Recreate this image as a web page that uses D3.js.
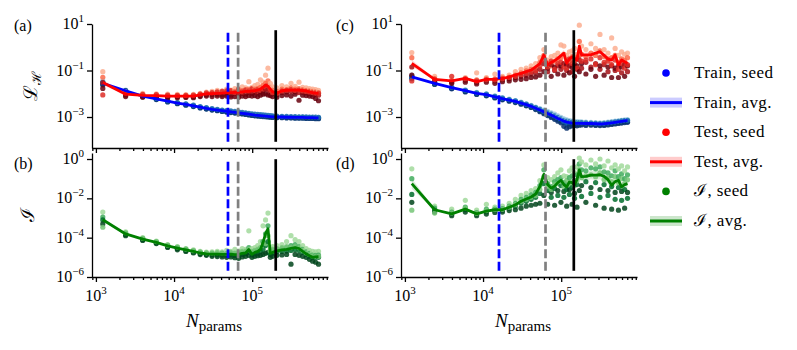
<!DOCTYPE html>
<html>
<head>
<meta charset="utf-8">
<script src="https://cdnjs.cloudflare.com/ajax/libs/d3/7.8.5/d3.min.js"></script>
<style>
  body { margin: 0; background: #fff; }
  svg { display: block; }
</style>
</head>
<body>
<div id="chart"></div>
<script>
// number of parameters of each model (x positions)
var nParams = [1225, 2401, 3969, 5929, 8281, 11025, 14161, 17689, 21609, 25921,
  30625, 35721, 41209, 47089, 53361, 60025, 67081, 74529, 82369, 90601,
  99225, 108241, 117649, 127449, 137641, 148225, 159201, 170569, 182329, 207025,
  240100, 275625, 313600, 354025, 396900, 442225, 490000, 540225, 592900, 648025, 705600];

// all values below are log10 of the plotted quantity
// panel (a)
var trainA_avg = [-1.55,-1.87,-2.10,-2.22,-2.32,-2.40,-2.46,-2.52,-2.58,-2.63,-2.67,-2.70,-2.73,-2.76,-2.78,-2.80,-2.82,-2.84,-2.86,-2.88,-2.90,-2.92,-2.93,-2.94,-2.95,-2.96,-2.97,-2.98,-2.99,-3.00,-3.00,-3.01,-3.01,-3.02,-3.02,-3.02,-3.03,-3.03,-3.03,-3.04,-3.04];
var testA_avg = [-1.52,-2.02,-2.07,-2.08,-2.10,-2.10,-2.10,-2.10,-2.05,-2.00,-2.00,-1.98,-1.97,-1.95,-1.95,-1.94,-1.93,-1.92,-1.90,-1.90,-1.88,-1.87,-1.84,-1.80,-1.72,-1.62,-1.68,-1.80,-1.92,-1.98,-1.87,-1.85,-1.84,-1.84,-1.84,-1.86,-1.88,-1.92,-1.95,-1.97,-1.98];
var trainA_seeds = [[-1.45,-1.53,-1.58,-1.62,-1.51],[-1.84,-1.88,-1.90,-1.86,-1.89],[-2.07,-2.12,-2.10,-2.13,-2.08],[-2.19,-2.24,-2.22,-2.25,-2.20],[-2.29,-2.34,-2.31,-2.35,-2.30],[-2.37,-2.42,-2.40,-2.43,-2.38],[-2.44,-2.48,-2.46,-2.49,-2.43],[-2.50,-2.54,-2.52,-2.55,-2.49],[-2.56,-2.60,-2.58,-2.61,-2.55],[-2.61,-2.65,-2.63,-2.66,-2.60],
  [-2.65,-2.69,-2.67,-2.70,-2.64],[-2.68,-2.72,-2.70,-2.73,-2.67],[-2.71,-2.75,-2.73,-2.76,-2.70],[-2.74,-2.78,-2.76,-2.79,-2.72],[-2.76,-2.80,-2.78,-2.81,-2.74],[-2.78,-2.82,-2.80,-2.83,-2.76],[-2.80,-2.84,-2.82,-2.85,-2.78],[-2.82,-2.86,-2.84,-2.87,-2.80],[-2.84,-2.88,-2.86,-2.89,-2.82],[-2.86,-2.90,-2.88,-2.91,-2.84],
  [-2.88,-2.92,-2.90,-2.93,-2.86],[-2.90,-2.94,-2.92,-2.95,-2.88],[-2.91,-2.95,-2.93,-2.96,-2.89],[-2.92,-2.96,-2.94,-2.97,-2.90],[-2.93,-2.97,-2.95,-2.98,-2.91],[-2.94,-2.98,-2.96,-2.99,-2.92],[-2.95,-2.99,-2.97,-3.00,-2.93],[-2.96,-3.00,-2.98,-3.01,-2.94],[-2.97,-3.01,-2.99,-3.02,-2.95],[-2.98,-3.02,-3.00,-3.03,-2.96],
  [-2.98,-3.02,-3.00,-3.03,-2.97],[-2.99,-3.03,-3.01,-3.04,-2.97],[-2.99,-3.03,-3.01,-3.04,-2.98],[-3.00,-3.04,-3.02,-3.05,-2.98],[-3.00,-3.04,-3.02,-3.05,-2.99],[-3.00,-3.04,-3.02,-3.05,-2.99],[-3.01,-3.05,-3.03,-3.06,-2.99],[-3.01,-3.05,-3.03,-3.06,-3.00],[-3.01,-3.05,-3.03,-3.06,-3.00],[-3.02,-3.06,-3.04,-3.07,-3.00],[-3.02,-3.06,-3.04,-3.07,-3.01]];
var testA_seeds = [[-1.05,-1.29,-1.52,-1.77,-2.05],[-1.92,-2.00,-2.06,-2.12,-1.97],[-1.98,-2.05,-2.10,-2.15,-2.03],[-2.00,-2.06,-2.12,-2.15,-2.04],[-2.02,-2.08,-2.14,-2.17,-2.06],[-2.03,-2.08,-2.13,-2.17,-2.07],[-2.04,-2.09,-2.13,-2.16,-2.07],[-2.03,-2.08,-2.14,-2.17,-2.06],[-1.98,-2.03,-2.09,-2.12,-2.01],[-1.93,-1.99,-2.05,-2.10,-1.96],
  [-1.90,-1.98,-2.04,-2.12,-1.95],[-1.85,-1.96,-2.03,-2.10,-1.92],[-1.88,-1.95,-2.05,-2.12,-1.90],[-1.80,-1.93,-2.02,-2.10,-1.88],[-1.84,-1.92,-2.06,-2.14,-1.86],[-1.78,-1.90,-2.00,-2.12,-1.95],[-1.82,-1.88,-2.04,-2.15,-1.80],[-1.70,-1.86,-1.98,-2.10,-1.92],[-1.75,-1.85,-2.02,-2.12,-1.83],[-1.48,-1.80,-1.95,-2.08,-1.88],
  [-1.72,-1.82,-1.99,-2.10,-1.78],[-1.65,-1.80,-1.94,-2.08,-1.86],[-1.60,-1.78,-1.96,-2.12,-1.82],[-1.40,-1.72,-1.92,-2.06,-1.85],[-1.50,-1.65,-1.85,-2.02,-1.78],[-1.20,-1.55,-1.80,-2.00,-1.70],[-0.90,-1.45,-1.82,-2.05,-1.65],[-1.55,-1.75,-1.90,-2.08,-1.82],[-1.70,-1.85,-2.00,-2.12,-1.95],[-1.75,-1.90,-2.05,-2.15,-1.98],
  [-1.65,-1.80,-1.95,-2.08,-1.88],[-1.70,-1.82,-1.92,-2.05,-1.85],[-1.55,-1.75,-1.90,-2.10,-1.82],[-1.68,-1.80,-1.92,-2.02,-1.86],[-1.50,-1.78,-1.95,-2.28,-1.84],[-1.72,-1.82,-1.94,-2.06,-1.88],[-1.75,-1.85,-1.96,-2.08,-1.90],[-1.78,-1.88,-2.00,-2.10,-1.92],[-1.80,-1.90,-2.02,-2.12,-1.95],[-1.82,-1.92,-2.04,-2.20,-1.96],[-1.85,-1.95,-2.06,-2.30,-1.98]];

// panel (b)
var infoB_avg = [-3.09,-3.81,-4.07,-4.24,-4.42,-4.53,-4.62,-4.70,-4.78,-4.82,-4.84,-4.84,-4.85,-4.85,-4.84,-4.86,-4.85,-4.80,-4.78,-4.60,-4.85,-4.75,-4.70,-4.60,-4.25,-3.80,-3.55,-4.80,-4.75,-4.67,-4.62,-4.60,-4.55,-4.50,-4.55,-4.70,-4.82,-4.92,-5.00,-4.98,-4.97];
var infoB_seeds = [[-2.70,-2.95,-3.10,-3.30,-3.47],[-3.70,-3.78,-3.85,-3.90,-3.75],[-4.00,-4.05,-4.10,-4.14,-4.03],[-4.18,-4.22,-4.27,-4.30,-4.20],[-4.35,-4.40,-4.46,-4.50,-4.38],[-4.45,-4.50,-4.56,-4.62,-4.48],[-4.55,-4.60,-4.66,-4.70,-4.58],[-4.62,-4.68,-4.74,-4.78,-4.66],[-4.70,-4.75,-4.82,-4.86,-4.73],[-4.74,-4.80,-4.86,-4.90,-4.77],
  [-4.72,-4.80,-4.88,-4.95,-4.78],[-4.70,-4.82,-4.88,-4.96,-4.76],[-4.72,-4.80,-4.90,-4.98,-4.78],[-4.65,-4.82,-4.90,-5.00,-4.80],[-4.70,-4.80,-4.88,-4.98,-4.75],[-4.60,-4.82,-4.92,-5.02,-4.78],[-4.68,-4.80,-4.90,-5.05,-4.74],[-4.55,-4.75,-4.85,-4.98,-4.70],[-4.60,-4.72,-4.82,-4.95,-4.68],[-3.65,-4.50,-4.75,-4.90,-4.60],
  [-4.55,-4.75,-4.88,-5.00,-4.70],[-4.50,-4.70,-4.82,-4.95,-4.65],[-4.40,-4.65,-4.80,-4.92,-4.60],[-4.20,-4.55,-4.72,-4.90,-4.50],[-3.40,-4.20,-4.60,-4.85,-4.40],[-3.10,-3.80,-4.40,-4.80,-4.30],[-2.75,-3.40,-4.20,-4.75,-3.90],[-4.50,-4.70,-4.85,-5.00,-4.65],[-4.45,-4.65,-4.80,-4.95,-4.60],[-4.40,-4.60,-4.72,-4.90,-4.55],
  [-4.35,-4.55,-4.70,-4.88,-4.50],[-4.20,-4.50,-4.68,-4.85,-4.45],[-3.90,-4.40,-4.65,-5.35,-4.50],[-4.10,-4.35,-4.60,-4.85,-4.45],[-4.20,-4.45,-4.65,-4.90,-4.50],[-4.40,-4.60,-4.75,-4.95,-4.65],[-4.55,-4.72,-4.85,-5.00,-4.78],[-4.65,-4.80,-4.95,-5.10,-4.85],[-4.70,-4.88,-5.02,-5.20,-4.92],[-4.72,-4.90,-5.00,-5.25,-4.95],[-4.70,-4.88,-5.00,-5.35,-4.95]];

// panel (c)
var trainC_avg = [-1.27,-1.55,-1.74,-1.87,-1.98,-2.04,-2.13,-2.21,-2.27,-2.33,-2.40,-2.47,-2.54,-2.62,-2.70,-2.78,-2.85,-2.92,-2.99,-3.06,-3.12,-3.18,-3.22,-3.24,-3.26,-3.27,-3.27,-3.27,-3.27,-3.28,-3.28,-3.29,-3.30,-3.29,-3.27,-3.25,-3.23,-3.21,-3.19,-3.17,-3.16];
var testC_avg = [-0.69,-1.38,-1.45,-1.34,-1.48,-1.38,-1.38,-1.34,-1.28,-1.19,-1.12,-1.05,-0.98,-0.84,-0.70,-0.33,-0.76,-0.65,-0.58,-0.48,-0.36,-0.26,-0.69,-0.50,-0.41,-0.48,-0.55,0.05,-0.33,-0.33,-0.33,-0.25,-0.19,-0.35,-0.50,-0.55,-0.33,-0.76,-0.55,-0.62,-0.69];
var trainC_seeds = [[-1.20,-1.25,-1.30,-1.35,-1.28],[-1.50,-1.54,-1.58,-1.60,-1.53],[-1.70,-1.74,-1.77,-1.79,-1.72],[-1.83,-1.87,-1.90,-1.92,-1.85],[-1.94,-1.98,-2.01,-2.03,-1.96],[-2.00,-2.04,-2.07,-2.09,-2.02],[-2.09,-2.13,-2.16,-2.18,-2.11],[-2.17,-2.21,-2.24,-2.26,-2.19],[-2.23,-2.27,-2.30,-2.32,-2.25],[-2.29,-2.33,-2.36,-2.38,-2.31],
  [-2.36,-2.40,-2.43,-2.45,-2.38],[-2.43,-2.47,-2.50,-2.52,-2.45],[-2.50,-2.54,-2.57,-2.59,-2.52],[-2.57,-2.62,-2.65,-2.68,-2.60],[-2.64,-2.70,-2.74,-2.77,-2.67],[-2.70,-2.78,-2.82,-2.86,-2.75],[-2.76,-2.85,-2.90,-2.94,-2.82],[-2.82,-2.92,-2.97,-3.02,-2.88],[-2.88,-2.99,-3.04,-3.10,-2.95],[-2.95,-3.06,-3.12,-3.18,-3.02],
  [-3.02,-3.12,-3.18,-3.25,-3.08],[-3.08,-3.18,-3.24,-3.40,-3.14],[-3.12,-3.22,-3.28,-3.48,-3.18],[-3.15,-3.24,-3.30,-3.42,-3.20],[-3.18,-3.26,-3.32,-3.38,-3.22],[-3.20,-3.27,-3.32,-3.36,-3.24],[-3.20,-3.27,-3.32,-3.38,-3.24],[-3.21,-3.27,-3.31,-3.35,-3.24],[-3.21,-3.27,-3.31,-3.34,-3.24],[-3.22,-3.28,-3.32,-3.36,-3.25],
  [-3.23,-3.28,-3.32,-3.35,-3.26],[-3.24,-3.29,-3.33,-3.36,-3.27],[-3.25,-3.30,-3.34,-3.37,-3.28],[-3.24,-3.29,-3.33,-3.36,-3.27],[-3.22,-3.27,-3.31,-3.34,-3.25],[-3.20,-3.25,-3.29,-3.32,-3.23],[-3.18,-3.23,-3.27,-3.30,-3.21],[-3.16,-3.21,-3.25,-3.28,-3.19],[-3.14,-3.19,-3.23,-3.26,-3.17],[-3.12,-3.17,-3.21,-3.24,-3.15],[-3.11,-3.16,-3.20,-3.23,-3.14]];
var testC_seeds = [[-0.23,-0.45,-0.85,-1.20,-1.45],[-1.25,-1.35,-1.42,-1.48,-1.38],[-1.40,-1.45,-1.50,-1.55,-1.25],[-1.30,-1.38,-1.42,-1.50,-1.35],[-1.10,-1.40,-1.50,-1.58,-1.45],[-1.30,-1.36,-1.42,-1.50,-1.40],[-1.15,-1.36,-1.45,-1.55,-1.40],[-1.25,-1.32,-1.40,-1.48,-1.36],[-1.20,-1.28,-1.36,-1.45,-1.30],[-1.05,-1.20,-1.30,-1.40,-1.25],
  [-0.95,-1.10,-1.25,-1.38,-1.18],[-0.90,-1.02,-1.20,-1.35,-1.10],[-0.80,-0.95,-1.15,-1.30,-1.05],[-0.70,-0.90,-1.10,-1.28,-1.00],[-0.45,-0.65,-0.95,-1.20,-0.80],[-0.10,-0.35,-0.70,-1.05,-0.55],[-0.55,-0.70,-1.05,-0.90,-0.85],[-0.40,-0.80,-0.75,-1.25,-0.60],[-0.35,-0.60,-1.00,-0.85,-0.95],[-0.25,-0.50,-0.80,-1.15,-0.70],
  [0.10,-0.45,-0.95,-0.80,-0.65],[0.05,-0.30,-0.70,-1.20,-0.85],[-0.35,-0.55,-1.00,-0.75,-0.90],[-0.20,-0.60,-0.80,-1.10,-0.50],[-0.15,-0.40,-1.05,-0.85,-0.70],[-0.05,-0.50,-0.75,-1.25,-0.60],[-0.30,-0.45,-0.95,-0.80,-0.90],[0.95,0.25,-0.55,-1.05,-0.35],[0.05,-0.30,-0.90,-0.70,-0.60],[-0.10,-0.40,-0.65,-1.15,-0.55],
  [0.15,-0.25,-0.85,-0.95,-0.50],[-0.05,-0.35,-0.70,-1.25,-0.75],[0.55,-0.15,-0.95,-0.80,-0.45],[-0.10,-0.40,-0.75,-1.20,-0.65],[-0.25,-0.50,-1.05,-0.85,-0.60],[0.40,-0.45,-0.80,-1.30,-0.75],[-0.05,-0.35,-1.00,-0.90,-0.55],[-0.35,-0.65,-0.80,-1.30,-0.95],[-0.20,-0.50,-1.10,-0.85,-0.70],[-0.30,-0.55,-0.75,-1.25,-0.90],[-0.25,-0.45,-1.05,-0.80,-0.75]];

// panel (d)
var infoD_avg = [-1.25,-2.58,-2.79,-2.55,-2.79,-2.65,-2.58,-2.58,-2.45,-2.33,-2.15,-2.03,-1.93,-1.78,-1.40,-0.78,-1.30,-1.48,-1.38,-1.20,-1.08,-1.30,-1.42,-1.16,-1.20,-1.30,-1.05,-0.56,-0.90,-0.88,-0.82,-0.82,-0.80,-0.88,-1.05,-1.33,-1.15,-1.08,-1.42,-1.30,-1.25];
var infoD_seeds = [[-0.50,-1.00,-1.80,-2.20,-2.60],[-2.40,-2.50,-2.60,-2.70,-2.75],[-2.55,-2.70,-2.80,-2.88,-2.75],[-2.10,-2.45,-2.58,-2.70,-2.50],[-2.60,-2.72,-2.80,-2.88,-2.76],[-2.30,-2.55,-2.68,-2.80,-2.62],[-2.45,-2.55,-2.62,-2.72,-2.58],[-2.40,-2.52,-2.60,-2.70,-2.56],[-2.25,-2.40,-2.50,-2.62,-2.45],[-2.05,-2.25,-2.40,-2.58,-2.32],
  [-1.85,-2.05,-2.25,-2.50,-2.15],[-1.75,-1.95,-2.15,-2.40,-2.05],[-1.60,-1.82,-2.05,-2.35,-1.95],[-1.50,-1.70,-1.95,-2.30,-1.85],[-1.10,-1.35,-1.75,-2.25,-1.55],[-0.30,-0.55,-1.25,-1.85,-0.90],[-0.95,-1.25,-1.60,-2.30,-1.40],[-1.05,-1.40,-1.95,-1.70,-1.55],[-0.90,-1.15,-1.50,-2.35,-1.30],[-0.70,-1.05,-1.85,-1.60,-1.25],
  [-0.55,-0.95,-1.35,-2.20,-1.15],[-0.85,-1.20,-1.95,-1.65,-1.40],[-0.90,-1.30,-1.55,-2.40,-1.10],[-0.60,-0.95,-1.80,-1.55,-1.30],[-0.45,-0.85,-1.45,-2.30,-1.20],[-0.70,-1.10,-2.00,-1.75,-1.35],[-0.40,-0.80,-1.30,-2.45,-1.10],[0.05,-0.25,-0.85,-1.60,-0.55],[-0.15,-0.55,-1.90,-1.35,-0.95],[-0.30,-0.60,-1.15,-2.20,-0.85],
  [-0.05,-0.45,-1.75,-1.45,-0.80],[-0.25,-0.50,-1.20,-2.35,-0.90],[0.00,-0.40,-1.95,-1.55,-0.70],[-0.35,-0.65,-1.30,-2.50,-1.05],[-0.10,-0.70,-1.85,-1.60,-0.95],[-0.45,-0.85,-1.40,-2.55,-1.15],[-0.30,-0.60,-2.05,-1.70,-0.90],[-0.50,-0.90,-1.45,-2.60,-1.20],[-0.35,-0.75,-2.10,-1.65,-1.00],[-0.60,-1.00,-1.55,-2.50,-1.25],[-0.40,-0.80,-2.00,-1.70,-1.05]];

// vertical markers (N_params)
var markersLeft = [49000, 66000, 200000];
var markersRight = [16000, 63000, 145000];

var blues = ["#9ecae1", "#4292c6", "#08519c", "#08306b", "#2171b5"];
var reds = ["#fcae91", "#fb6a4a", "#a50f15", "#67000d", "#de2d26"];
var greens = ["#a1d99b", "#41ab5d", "#006d2c", "#00441b", "#74c476"];

var FONT = "'Liberation Serif', 'Times New Roman', serif";
var SCRIPT = "'DejaVu Serif', serif";

var svg = d3.select("#chart").append("svg").attr("width", 797).attr("height", 350)
  .attr("font-family", FONT);

var cols = [{x0: 92, x1: 328}, {x0: 401, x1: 637}];
var rows = [{y0: 24, y1: 148, dom: [Math.pow(10, -4.333), 10], ticks: [1, -1, -3]},
            {y0: 153, y1: 277, dom: [1e-6, Math.pow(10, 0.306)], ticks: [0, -2, -4, -6]}];

function sup(t, e) {
  t.append("tspan").text("10");
  t.append("tspan").attr("dy", -7).attr("font-size", 11).text(e < 0 ? "\u2212" + (-e) : e);
}

function panel(col, row, series, markers, showXLabels) {
  var x = d3.scaleLog().domain([Math.pow(10, 2.95), Math.pow(10, 5.97)]).range([col.x0, col.x1]);
  var y = d3.scaleLog().domain(row.dom).range([row.y1, row.y0]);
  var g = svg.append("g");

  // bands
  series.forEach(function (s) {
    var band = s.avg.map(function (v, i) {
      var dev = d3.deviation(s.seeds[i]) * 0.3;
      return [i, v - dev, v + dev];
    });
    g.append("path").datum(band)
      .attr("fill", s.color).attr("opacity", 0.15)
      .attr("d", d3.area()
        .x(function (d) { return x(nParams[d[0]]); })
        .y0(function (d) { return y(Math.pow(10, d[1])); })
        .y1(function (d) { return y(Math.pow(10, d[2])); }));
  });
  // seeds
  series.forEach(function (s) {
    var pts = [];
    s.seeds.forEach(function (arr, i) {
      arr.forEach(function (v, k) { pts.push({i: i, v: v, k: k}); });
    });
    g.selectAll(null).data(pts).enter().append("circle")
      .attr("cx", function (d) { return x(nParams[d.i]); })
      .attr("cy", function (d) { return y(Math.pow(10, d.v)); })
      .attr("r", 2.6)
      .attr("fill", function (d) { return s.shades[d.k]; })
      .attr("opacity", 0.85);
  });
  // averages
  series.forEach(function (s) {
    g.append("path").datum(s.avg)
      .attr("fill", "none").attr("stroke", s.color).attr("stroke-width", 2.8)
      .attr("stroke-linejoin", "round")
      .attr("d", d3.line()
        .x(function (d, i) { return x(nParams[i]); })
        .y(function (d) { return y(Math.pow(10, d)); }));
  });
  // vertical markers
  var h = row.y1 - row.y0;
  var mstyle = [{c: "#0000ff", dash: "9,3.5"}, {c: "#808080", dash: "9,3.5"}, {c: "#000", dash: null}];
  markers.forEach(function (m, j) {
    g.append("line")
      .attr("x1", x(m)).attr("x2", x(m))
      .attr("y1", row.y1 - 0.05 * h).attr("y2", row.y0 + 0.05 * h)
      .attr("stroke", mstyle[j].c).attr("stroke-width", 2.7)
      .attr("stroke-dasharray", mstyle[j].dash);
  });

  // x axis
  var major = [1e3, 1e4, 1e5];
  var minor = [];
  [1e2, 1e3, 1e4, 1e5].forEach(function (d) {
    for (var k = 2; k <= 9; k++) {
      var v = d * k;
      if (v > x.domain()[0] && v < x.domain()[1]) minor.push(v);
    }
  });
  var ax = g.append("g").attr("transform", "translate(0," + row.y1 + ")");
  ax.call(d3.axisBottom(x).tickValues(major).tickSize(5).tickSizeOuter(0).tickFormat(""));
  ax.append("g").call(d3.axisBottom(x).tickValues(minor).tickSize(3).tickSizeOuter(0).tickFormat(""))
    .select(".domain").remove();
  ax.selectAll("path, line").attr("stroke", "#000").attr("stroke-width", 1.3);
  if (showXLabels) {
    major.forEach(function (v) {
      var t = g.append("text").attr("x", x(v)).attr("y", row.y1 + 24)
        .attr("text-anchor", "middle").attr("font-size", 16);
      sup(t, Math.round(Math.log10(v)));
    });
  }

  // y axis
  var ay = g.append("g").attr("transform", "translate(" + col.x0 + ",0)");
  ay.call(d3.axisLeft(y).tickValues(row.ticks.map(function (e) { return Math.pow(10, e); }))
    .tickSize(5).tickSizeOuter(0).tickFormat(""));
  ay.selectAll("path, line").attr("stroke", "#000").attr("stroke-width", 1.3);
  row.ticks.forEach(function (e) {
    var t = g.append("text").attr("x", col.x0 - 8).attr("y", y(Math.pow(10, e)) + 5)
      .attr("text-anchor", "end").attr("font-size", 16);
    sup(t, e);
  });
}

panel(cols[0], rows[0], [
  {avg: trainA_avg, seeds: trainA_seeds, color: "#0000ff", shades: blues},
  {avg: testA_avg, seeds: testA_seeds, color: "#ff0000", shades: reds}], markersLeft, false);
panel(cols[0], rows[1], [
  {avg: infoB_avg, seeds: infoB_seeds, color: "#008000", shades: greens}], markersLeft, true);
panel(cols[1], rows[0], [
  {avg: trainC_avg, seeds: trainC_seeds, color: "#0000ff", shades: blues},
  {avg: testC_avg, seeds: testC_seeds, color: "#ff0000", shades: reds}], markersRight, false);
panel(cols[1], rows[1], [
  {avg: infoD_avg, seeds: infoD_seeds, color: "#008000", shades: greens}], markersRight, true);

// panel letters
[["(a)", 14, 31], ["(b)", 14, 169], ["(c)", 336, 31], ["(d)", 336, 169]].forEach(function (p) {
  svg.append("text").attr("x", p[1]).attr("y", p[2]).attr("font-size", 16).text(p[0]);
});

// axis titles
cols.forEach(function (c) {
  var t = svg.append("text").attr("x", (c.x0 + c.x1) / 2 + 4).attr("y", 327).attr("text-anchor", "middle");
  t.append("tspan").attr("font-style", "italic").attr("font-size", 19).text("N");
  t.append("tspan").attr("font-size", 15).attr("dy", 4).text("params");
});
var yl1 = svg.append("text").attr("transform", "translate(37,86) rotate(-90)")
  .attr("text-anchor", "middle").attr("font-family", SCRIPT);
yl1.append("tspan").attr("font-size", 19).text("\u2112");
yl1.append("tspan").attr("font-size", 13).attr("dy", 4).text("\u210B");
svg.append("text").attr("transform", "translate(34,215) rotate(-90)")
  .attr("text-anchor", "middle").attr("font-family", SCRIPT)
  .attr("font-size", 19).text("\u2110");

// legend
var legendItems = [
  {type: "dot", color: "#0000ff", label: ["Train, seed"]},
  {type: "line", color: "#0000ff", label: ["Train, avg."]},
  {type: "dot", color: "#ff0000", label: ["Test, seed"]},
  {type: "line", color: "#ff0000", label: ["Test, avg."]},
  {type: "dot", color: "#008000", label: ["\u2110", ", seed"]},
  {type: "line", color: "#008000", label: ["\u2110", ", avg."]}
];
var lg = svg.append("g");
legendItems.forEach(function (d, i) {
  var yy = 73 + i * 29.6;
  if (d.type === "dot") {
    lg.append("circle").attr("cx", 666).attr("cy", yy).attr("r", 3.8).attr("fill", d.color);
  } else {
    lg.append("rect").attr("x", 650).attr("y", yy - 5).attr("width", 32).attr("height", 10)
      .attr("fill", d.color).attr("opacity", 0.2);
    lg.append("line").attr("x1", 650).attr("x2", 682).attr("y1", yy).attr("y2", yy)
      .attr("stroke", d.color).attr("stroke-width", 3);
  }
  var t = lg.append("text").attr("x", 694).attr("y", yy + 5).attr("font-size", 17)
    .attr("letter-spacing", 0.4);
  if (d.label.length === 1) {
    t.text(d.label[0]);
  } else {
    t.append("tspan").attr("font-family", SCRIPT).text(d.label[0]);
    t.append("tspan").text(d.label[1]);
  }
});
</script>
</body>
</html>
